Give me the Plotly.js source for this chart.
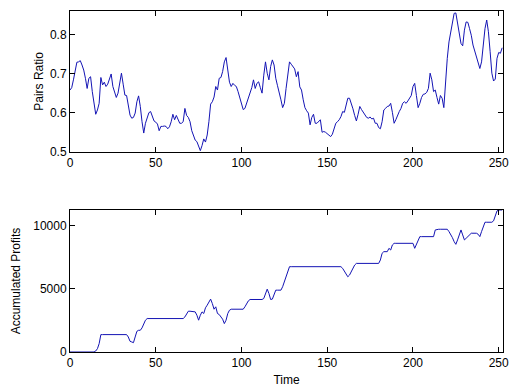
<!DOCTYPE html>
<html>
<head>
<meta charset="utf-8">
<script src="https://cdn.plot.ly/plotly-3.0.1.min.js"></script>
<style>html,body{margin:0;padding:0;background:#fff;}#chart{width:520px;height:389px;}</style>
</head>
<body>
<div id="chart"></div>
<script>
// Pairs ratio, t = 0..252
const pairsRatio = [
0.658,0.664,0.684,0.709,0.729,0.730,0.733,0.722,0.709,0.688,
0.662,0.688,0.692,0.654,0.624,0.596,0.607,0.624,0.690,0.671,
0.678,0.667,0.673,0.684,0.699,0.667,0.650,0.639,0.650,0.673,
0.701,0.673,0.645,0.644,0.620,0.594,0.586,0.588,0.599,0.628,
0.643,0.616,0.577,0.548,0.573,0.588,0.600,0.603,0.593,0.579,
0.576,0.571,0.554,0.565,0.565,0.566,0.565,0.559,0.564,0.577,
0.596,0.582,0.593,0.582,0.573,0.573,0.577,0.611,0.593,0.588,
0.577,0.554,0.543,0.530,0.526,0.516,0.503,0.516,0.533,0.525,
0.543,0.577,0.622,0.628,0.640,0.667,0.658,0.688,0.690,0.705,
0.730,0.741,0.705,0.678,0.667,0.675,0.670,0.667,0.654,0.637,
0.620,0.608,0.611,0.624,0.639,0.650,0.664,0.684,0.662,0.675,
0.679,0.664,0.650,0.696,0.730,0.701,0.684,0.718,0.735,0.722,
0.688,0.669,0.654,0.633,0.613,0.624,0.662,0.696,0.730,0.724,
0.719,0.712,0.692,0.705,0.666,0.658,0.633,0.613,0.605,0.599,
0.569,0.588,0.596,0.573,0.573,0.577,0.582,0.550,0.552,0.550,
0.547,0.543,0.539,0.545,0.560,0.573,0.577,0.582,0.590,0.603,
0.601,0.616,0.637,0.637,0.626,0.610,0.593,0.579,0.596,0.616,
0.608,0.601,0.594,0.588,0.586,0.589,0.584,0.586,0.573,0.573,
0.562,0.559,0.577,0.607,0.611,0.616,0.617,0.624,0.601,0.573,
0.582,0.594,0.603,0.611,0.624,0.628,0.624,0.630,0.639,0.644,
0.667,0.675,0.644,0.613,0.624,0.639,0.647,0.648,0.652,0.662,
0.701,0.684,0.654,0.658,0.639,0.622,0.644,0.637,0.613,0.679,
0.739,0.781,0.805,0.832,0.854,0.855,0.831,0.803,0.777,0.771,
0.811,0.832,0.831,0.815,0.798,0.773,0.758,0.743,0.730,0.713,
0.730,0.773,0.815,0.837,0.807,0.756,0.701,0.681,0.686,0.739,
0.754,0.752,0.766
];
// Accumulated profits, t = 0..252
const accProfits = [
0,0,0,0,0,0,0,0,0,0,
0,0,0,0,0,80,265,660,1378,1378,
1378,1378,1378,1378,1378,1378,1378,1378,1378,1378,
1378,1378,1378,1378,1190,850,795,740,1190,1640,
1720,1720,1910,2250,2520,2650,2650,2650,2650,2650,
2650,2650,2650,2650,2650,2650,2650,2650,2650,2650,
2650,2650,2650,2650,2650,2650,2650,2780,3050,3230,
3230,3230,3230,3180,2915,2520,2915,3180,3050,3500,
3710,3920,4190,3840,3390,3580,3050,2970,2780,2600,
2250,2520,3050,3310,3390,3390,3390,3390,3390,3390,
3390,3390,3580,3840,4050,4160,4160,4160,4160,4160,
4160,4160,4160,4240,4560,4980,4640,4160,4190,4560,
4900,4900,4900,4900,5170,5565,6040,6490,6760,6760,
6760,6760,6760,6760,6760,6760,6760,6760,6760,6760,
6760,6760,6760,6760,6760,6760,6760,6760,6760,6760,
6760,6760,6760,6760,6760,6760,6760,6760,6760,6625,
6360,6095,5960,6095,6360,6625,6890,7020,7020,7020,
7020,7020,7020,7020,7020,7020,7020,7020,7020,7020,
7020,7290,7820,7950,7950,7950,8215,8080,8480,8610,
8610,8610,8610,8610,8610,8610,8610,8610,8610,8610,
8610,8215,8530,8880,9140,9140,9140,9140,9140,9140,
9140,9140,9140,9670,9725,9725,9725,9725,9725,9725,
9725,9540,9330,9060,8745,8530,8880,9275,9670,9275,
8880,9010,9140,9330,9410,9410,9410,9410,9330,9140,
9540,10020,10280,10280,10280,10280,10280,10390,10810,11180,
11250,11250,11250
];
const timeIdx = pairsRatio.map((_, i) => i);
const xTicks = [0, 50, 100, 150, 200, 250];
const ratioTicks = [0.5, 0.6, 0.7, 0.8];
const ratioTickText = ['0.5', '0.6', '0.7', '0.8'];
const profitTicks = [0, 5000, 10000];
const profitTickText = ['0', '5000', '10000'];

const lineColor = '#1414b4';
const fontFam = '"Liberation Sans", Arial, Helvetica, sans-serif';

const traces = [
  {x: timeIdx, y: pairsRatio, type: 'scatter', mode: 'lines',
   line: {color: lineColor, width: 1}, xaxis: 'x', yaxis: 'y', hoverinfo: 'none'},
  {x: timeIdx, y: accProfits, type: 'scatter', mode: 'lines',
   line: {color: lineColor, width: 1}, xaxis: 'x2', yaxis: 'y2', hoverinfo: 'none'}
];

const axCommon = {
  showgrid: false, zeroline: false, showline: true, linecolor: '#000', linewidth: 1,
  mirror: 'ticks', ticks: 'inside', ticklen: 5, tickcolor: '#000', tickwidth: 1,
  tickfont: {family: fontFam, size: 12, color: '#000'}, automargin: false, fixedrange: true,
  layer: 'above traces'
};

const layout = {
  width: 520, height: 389,
  margin: {l: 70, r: 17, t: 11, b: 37},
  paper_bgcolor: '#fff', plot_bgcolor: '#fff',
  showlegend: false,
  font: {family: fontFam, size: 12, color: '#000'},
  xaxis: Object.assign({}, axCommon, {anchor: 'y', range: [0, 252.5],
    tickmode: 'array', tickvals: xTicks, ticktext: xTicks.map(String)}),
  yaxis: Object.assign({}, axCommon, {domain: [0.587, 1], anchor: 'x', range: [0.5, 0.86],
    tickmode: 'array', tickvals: ratioTicks, ticktext: ratioTickText,
    title: {text: 'Pairs Ratio', font: {family: fontFam, size: 12}, standoff: 3}}),
  xaxis2: Object.assign({}, axCommon, {anchor: 'y2', range: [0, 252.5],
    tickmode: 'array', tickvals: xTicks, ticktext: xTicks.map(String),
    title: {text: 'Time', font: {family: fontFam, size: 12}, standoff: 6}}),
  yaxis2: Object.assign({}, axCommon, {domain: [0, 0.4164], anchor: 'x2', range: [0, 11250],
    tickmode: 'array', tickvals: profitTicks, ticktext: profitTickText,
    title: {text: 'Accumulated Profits', font: {family: fontFam, size: 12}, standoff: 10}})
};

Plotly.newPlot('chart', traces, layout, {staticPlot: true, displayModeBar: false});
</script>
</body>
</html>
